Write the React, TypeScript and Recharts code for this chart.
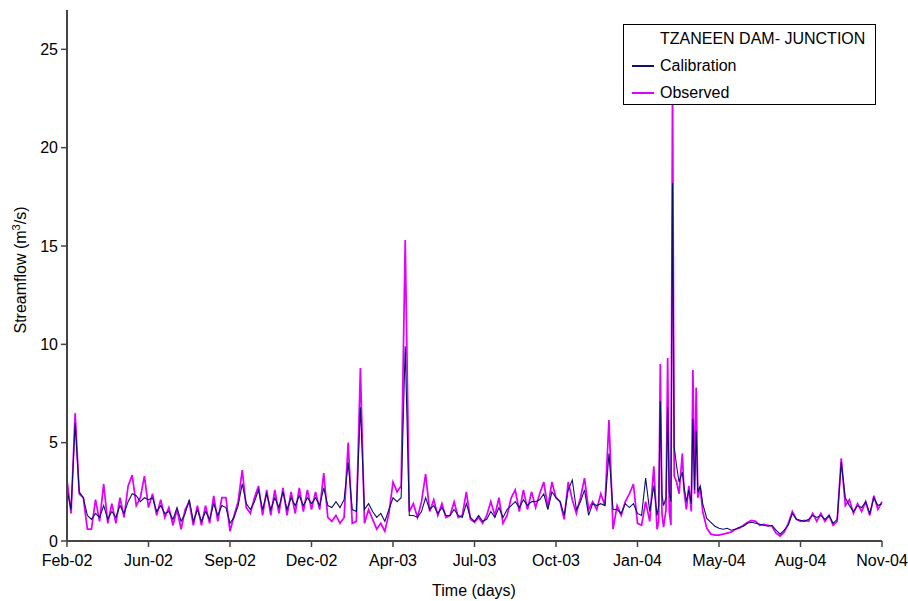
import { LineChart, Line, XAxis, YAxis, Legend, Label } from "recharts";

const FONT = "'Liberation Sans', Arial, sans-serif";

// day offsets along the time axis (0 = start of record)
const DAYS = [
  0, 5, 10, 15, 20, 25, 30, 35, 40, 45, 50, 55, 60, 65, 70, 75, 80, 85, 90, 95,
  100, 105, 110, 115, 120, 125, 130, 135, 140, 145, 150, 155, 160, 165, 170, 175, 180, 185, 190, 195,
  200, 205, 210, 215, 220, 225, 230, 235, 240, 245, 250, 255, 260, 265, 270, 275, 280, 285, 290, 295,
  300, 305, 310, 315, 320, 325, 330, 335, 340, 345, 350, 355, 360, 365, 370, 375, 380, 385, 390, 395,
  400, 405, 410, 415, 420, 425, 430, 435, 440, 445, 450, 455, 460, 465, 470, 475, 480, 485, 490, 495,
  500, 505, 510, 515, 520, 525, 530, 535, 540, 545, 550, 555, 560, 565, 570, 575, 580, 585, 590, 595,
  600, 605, 610, 615, 620, 625, 630, 635, 640, 645, 650, 655, 660, 665, 670, 675, 680, 685, 690, 695,
  700, 705, 710, 715,
  720, 724, 726, 728, 730, 732, 735, 737, 739, 741, 743, 745, 748, 751, 755, 757, 760, 763, 766, 768,
  770, 772, 774, 777, 780, 785,
  790, 795, 800, 805, 810, 815, 820, 825, 830, 835, 840, 845, 850, 855, 860, 865, 870, 875, 880, 885,
  890, 895, 900, 905, 910, 915, 920, 925, 930, 935, 940, 945, 950, 955, 960, 965, 970, 975, 980, 985,
  990, 995, 1000,
];

const OBSERVED = [
  3.1, 1.4, 6.5, 2.4, 2.2, 0.6, 0.6, 2.1, 1.0, 2.9,
  0.9, 1.9, 0.9, 2.2, 1.2, 2.8, 3.35, 1.8, 2.2, 3.3,
  1.7, 2.4, 1.3, 2.1, 1.2, 1.7, 0.8, 1.6, 0.6, 1.6,
  2.0, 0.8, 1.8, 0.8, 1.8, 0.9, 2.3, 1.0, 2.2, 2.2,
  0.5, 1.3, 2.0, 3.6, 1.7, 1.4, 2.2, 2.8, 1.3, 2.6,
  1.3, 2.6, 1.4, 2.7, 1.3, 2.5, 1.4, 2.7, 1.5, 2.6,
  1.6, 2.5, 1.6, 3.45, 1.2, 1.0, 1.3, 0.9, 1.2, 5.0,
  0.9, 1.0, 8.8, 0.9, 1.6, 1.1, 0.6, 0.9, 0.5, 1.4,
  3.0, 2.5, 2.8, 15.3, 1.5, 1.9, 1.2, 2.0, 3.4, 1.5,
  2.1, 1.3, 1.9, 1.2, 1.3, 2.0, 1.2, 1.3, 2.5, 1.1,
  0.95, 1.2, 0.9, 1.3, 2.0, 1.3, 2.2, 0.9, 1.3, 2.2,
  2.6, 1.5, 2.6, 1.6, 2.5, 1.7, 2.4, 3.0, 1.7, 3.0,
  2.2, 2.0, 1.1, 3.0, 2.1, 1.4, 2.2, 3.2, 1.6, 2.0,
  1.6, 2.4, 1.8, 6.15, 0.6, 1.8, 1.3, 2.0, 2.4, 2.9,
  0.9, 0.8, 2.0, 1.0,
  3.8, 0.6, 1.0, 9.0, 1.4, 0.7, 1.6, 9.3, 1.5, 0.8,
  23.5, 3.3, 3.0, 2.4, 4.45, 2.6, 1.6, 2.8, 1.5, 8.7,
  2.4, 7.8, 2.2, 2.7, 1.5, 0.65,
  0.35, 0.3, 0.3, 0.35, 0.4, 0.45, 0.6, 0.65, 0.8, 0.95,
  1.05, 1.0, 0.8, 0.85, 0.8, 0.75, 0.4, 0.25, 0.45, 0.9,
  1.5, 1.1, 1.0, 1.05, 1.0, 1.4, 1.0, 1.4, 1.0, 1.3,
  0.8, 1.0, 4.2, 1.8, 2.1, 1.4, 1.9, 1.5, 2.0, 1.3,
  2.3, 1.6, 2.0,
];

const CALIBRATION = [
  2.6, 1.6, 6.0, 2.5, 2.2, 1.3, 1.1, 1.4, 1.2, 1.8,
  1.1, 1.5, 1.2, 1.8, 1.4, 2.0, 2.4, 2.3, 2.0, 2.2,
  2.1, 2.2, 1.5, 1.8, 1.4, 1.5, 1.1, 1.7, 1.0, 1.4,
  2.1, 1.0, 1.6, 1.0, 1.5, 1.1, 1.9, 1.3, 1.8, 1.7,
  0.9, 1.2, 1.8, 2.9, 1.9, 1.6, 2.0, 2.6, 1.6, 2.4,
  1.6, 2.2, 1.7, 2.5, 1.6, 2.2, 1.8, 2.3, 1.8, 2.2,
  1.9, 2.2, 1.8, 2.7, 1.8, 1.7, 2.0, 1.7, 2.1, 4.0,
  1.6, 1.5, 6.8, 1.6, 1.9, 1.5, 1.2, 1.4, 1.0, 1.6,
  2.2, 2.0, 2.2, 9.9, 1.3, 1.3, 1.2, 1.5, 2.2, 1.6,
  1.8, 1.4, 1.7, 1.3, 1.3, 1.6, 1.3, 1.2, 1.9, 1.2,
  1.0, 1.3, 1.0, 1.1, 1.5, 1.2, 1.7, 1.2, 1.6, 1.8,
  2.0, 1.7, 2.1, 1.8, 2.0, 2.0, 2.1, 2.4, 1.6, 2.5,
  2.2, 2.0, 1.3, 2.6, 3.1, 1.6, 2.0, 2.6, 1.3, 1.9,
  1.8, 1.9, 1.8, 4.45, 1.6, 1.6, 1.4, 1.9, 1.7, 1.9,
  1.4, 1.3, 3.2, 1.5,
  2.8, 1.3, 1.8, 7.1, 2.4, 1.8, 2.2, 6.8, 2.5, 2.0,
  18.2, 4.8, 3.8, 3.0, 3.5, 2.8, 2.0, 2.6, 1.9, 6.2,
  2.6, 5.6, 2.5, 2.8, 1.9, 1.15,
  0.95, 0.75, 0.65, 0.6, 0.65, 0.55, 0.6, 0.7, 0.75, 0.9,
  0.95, 0.9, 0.85, 0.8, 0.75, 0.8, 0.55, 0.35, 0.55, 0.8,
  1.4, 1.1, 1.05, 1.0, 1.1, 1.3, 1.2, 1.3, 1.1, 1.3,
  0.9, 1.1, 4.0, 2.2, 1.8, 1.5, 1.8, 1.7, 2.0, 1.4,
  2.2, 1.8, 1.9,
];

const TICK_DAYS = [0, 100, 200, 300, 400, 500, 600, 700, 800, 900, 1000];
const TICK_LABELS = ["Feb-02", "Jun-02", "Sep-02", "Dec-02", "Apr-03", "Jul-03", "Oct-03", "Jan-04", "May-04", "Aug-04", "Nov-04"];
const Y_TICKS = [0, 5, 10, 15, 20, 25];

const OBS_COLOR = "#e100ff";
const CAL_COLOR = "#10106b";
const AXIS_COLOR = "#444";

const data = DAYS.map((day, i) => ({ day, observed: OBSERVED[i], calibration: CALIBRATION[i] }));

const TICK_STYLE = { fontSize: 16, fill: "#000", fontFamily: FONT };

function StreamflowTitle() {
  return (
    <text transform="translate(26,270) rotate(-90)" textAnchor="middle" fontSize={16} fontFamily={FONT} fill="#000">
      Streamflow (m<tspan dy={-6} fontSize={11}>3</tspan>
      <tspan dy={6}>/s)</tspan>
    </text>
  );
}

function TimeTitle() {
  return (
    <text x={474} y={596} textAnchor="middle" fontSize={16} fontFamily={FONT} fill="#000">
      Time (days)
    </text>
  );
}

function LegendBox() {
  const row = { position: "absolute" as const, left: 36, lineHeight: "20px", whiteSpace: "nowrap" as const };
  const swatch = (color: string, top: number) => (
    <div style={{ position: "absolute", left: 8, top, width: 22, height: 1.5, background: color }} />
  );
  return (
    <div
      style={{
        position: "relative",
        width: 253,
        height: 81,
        boxSizing: "border-box",
        border: "1px solid #000",
        background: "#fff",
        fontFamily: FONT,
        fontSize: 16,
        color: "#000",
      }}
    >
      <div style={{ ...row, top: 4 }}>TZANEEN DAM- JUNCTION</div>
      {swatch(CAL_COLOR, 40)}
      <div style={{ ...row, top: 31 }}>Calibration</div>
      {swatch(OBS_COLOR, 67)}
      <div style={{ ...row, top: 58 }}>Observed</div>
    </div>
  );
}

export default function App() {
  return (
    <div style={{ position: "absolute", left: 0, top: 0, background: "#fff" }}>
      <LineChart width={908} height={601} data={data} margin={{ top: 10, right: 26, bottom: 0, left: 0 }}>
        <XAxis
          type="number"
          dataKey="day"
          domain={[0, 1000]}
          ticks={TICK_DAYS}
          tickFormatter={(v: number) => TICK_LABELS[TICK_DAYS.indexOf(v)]}
          tick={TICK_STYLE}
          tickSize={6}
          tickMargin={8}
          height={60}
          axisLine={{ stroke: AXIS_COLOR, strokeWidth: 2 }}
          tickLine={{ stroke: AXIS_COLOR, strokeWidth: 1.5 }}
          interval={0}
        >
          <Label content={() => <TimeTitle />} />
        </XAxis>
        <YAxis
          domain={[0, 27]}
          ticks={Y_TICKS}
          tick={TICK_STYLE}
          tickSize={6}
          tickMargin={3}
          width={67}
          axisLine={{ stroke: AXIS_COLOR, strokeWidth: 2 }}
          tickLine={{ stroke: AXIS_COLOR, strokeWidth: 1.5 }}
          allowDataOverflow
        >
          <Label content={() => <StreamflowTitle />} />
        </YAxis>
        <Legend
          layout="horizontal"
          verticalAlign="middle"
          align="center"
          content={() => <LegendBox />}
          wrapperStyle={{ left: 623, top: 24, width: 253, height: 81 }}
        />
        <Line type="linear" dataKey="observed" stroke={OBS_COLOR} strokeWidth={1.75} dot={false} isAnimationActive={false} />
        <Line type="linear" dataKey="calibration" stroke={CAL_COLOR} strokeWidth={1.1} dot={false} isAnimationActive={false} />
      </LineChart>
    </div>
  );
}
